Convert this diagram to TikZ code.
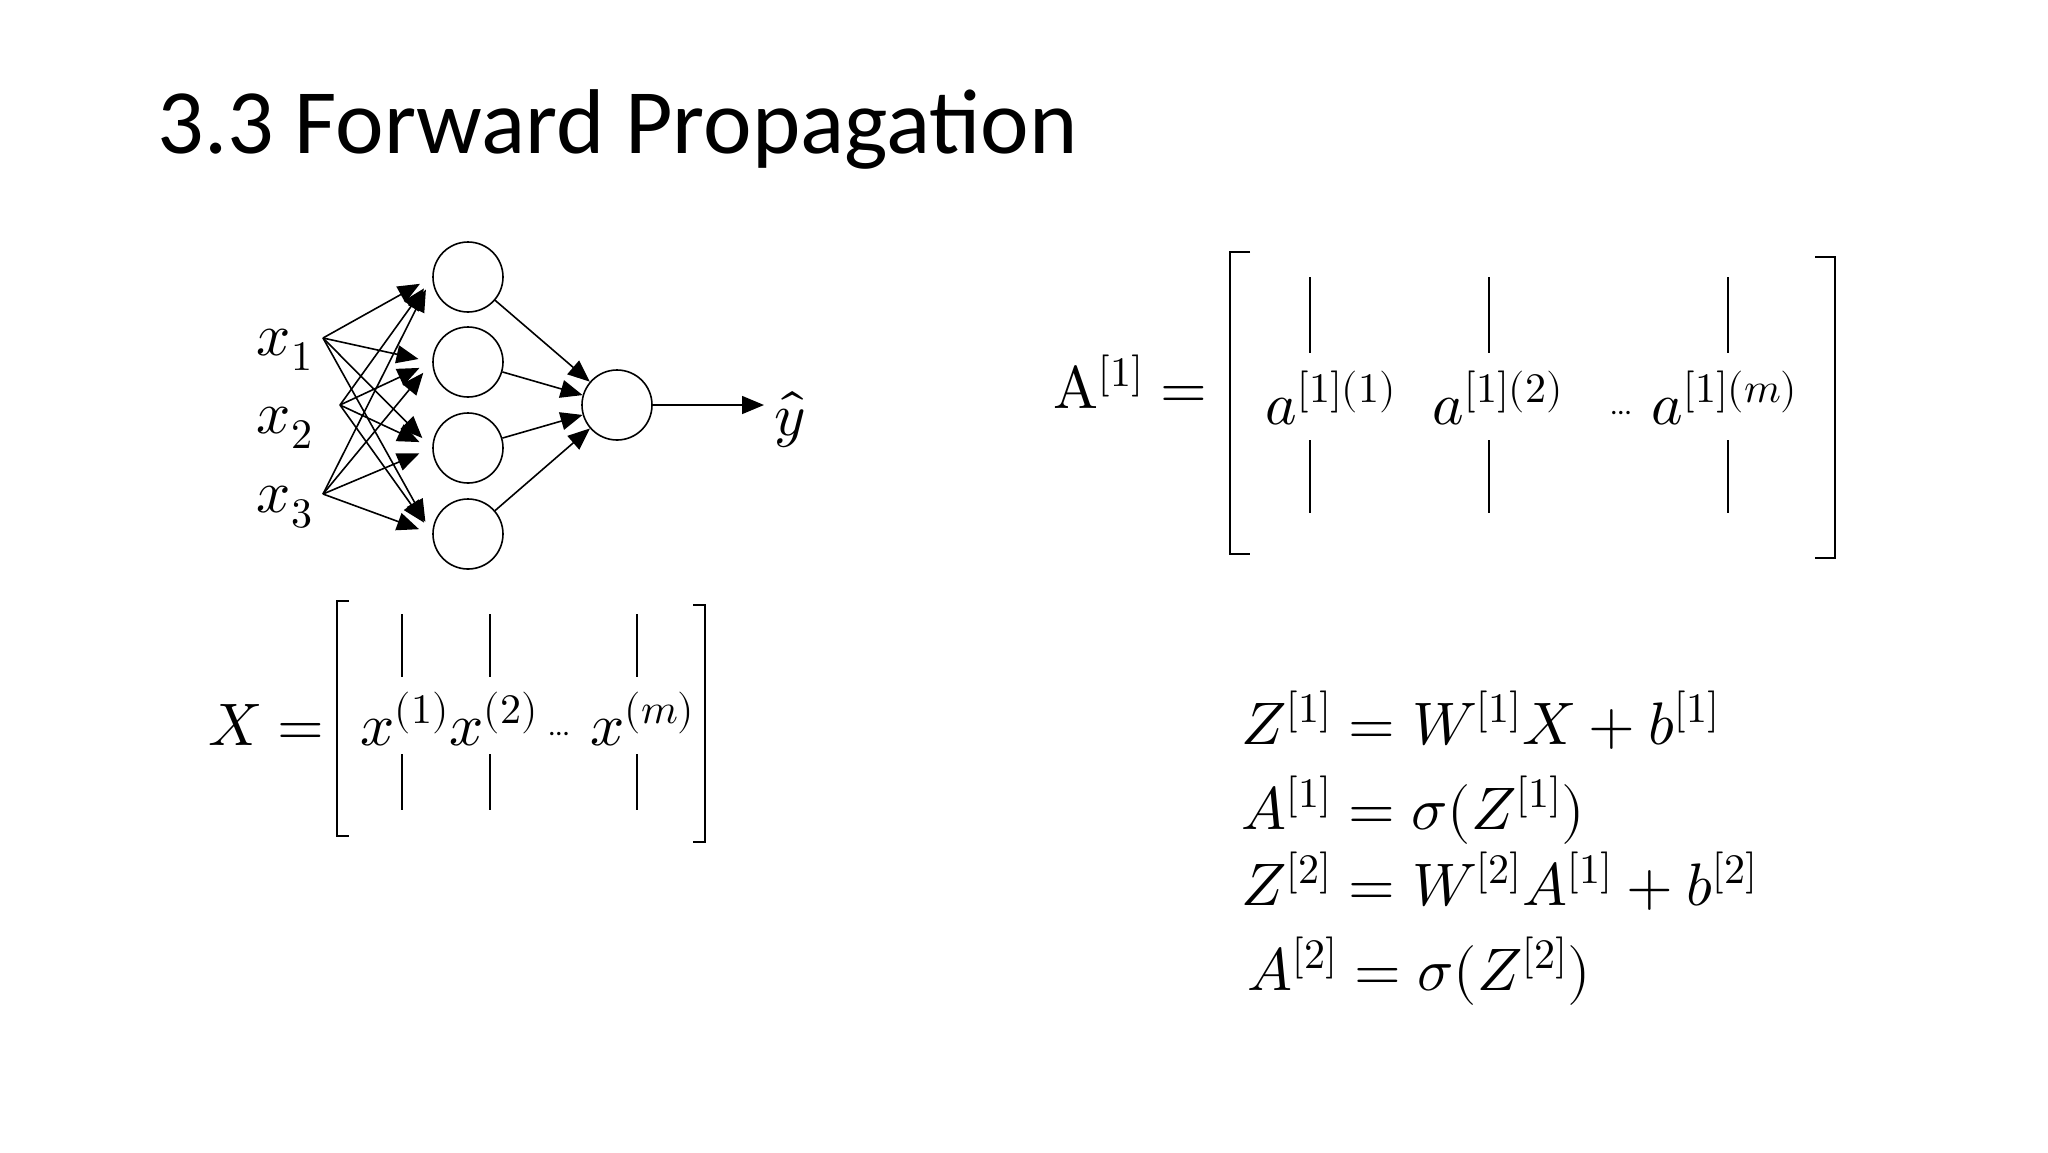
\documentclass[tikz,border=0pt]{standalone}
\usepackage{fontspec}
\setmainfont{Carlito}
\usepackage{unicode-math}
\setmathfont{Latin Modern Math}
\usetikzlibrary{arrows.meta}
\begin{document}
\begin{tikzpicture}[x=0.5pt,y=-0.5pt,
  neuron/.style={circle,draw,line width=0.8pt,minimum size=35pt,inner sep=0pt},
  conn/.style={line width=0.8pt,-{Triangle[length=11pt,width=9pt]}},
  eq/.style={anchor=base west,inner sep=0pt,font=\fontsize{30}{36}\selectfont},
  lbl/.style={inner sep=0pt,font=\fontsize{30}{36}\selectfont},
  brk/.style={line width=1.1pt},
  bar/.style={line width=0.8pt}]
\useasboundingbox[fill=white] (0,0) rectangle (2048,1152);
\node[anchor=base west,inner sep=0pt,font=\fontsize{46}{56}\selectfont] (title) at (157,153) {3.3 Forward Propagation};
% network
\foreach \i/\y in {1/277,2/362,3/448,4/534} \node[neuron] (h\i) at (468,\y) {};
\node[neuron] (o) at (617,405) {};
\node[lbl] (x1) at (285,350) {$x_1$};
\node[lbl] (x2) at (285,428) {$x_2$};
\node[lbl] (x3) at (285,507) {$x_3$};
\node[lbl] (yh) at (790,420) {$\hat{y}$};
\coordinate (s1) at (323,338);
\coordinate (s2) at (340,405);
\coordinate (s3) at (323,494);
\foreach \s in {s1,s2,s3}
  \foreach \i in {1,2,3,4}
    \draw[conn,shorten >=7pt] (\s) -- (h\i.west);
\foreach \i in {1,2,3,4} \draw[conn] (h\i) -- (o);
\coordinate (yend) at (764,405);
\draw[conn] (o.east) -- (yend);
% X matrix
\node[eq,anchor=base east] (Xeq) at (325,745) {$X=$};
\draw[brk] (349,601) -- (337,601) -- (337,836) -- (349,836);
\draw[brk] (693,605) -- (705,605) -- (705,842) -- (693,842);
\foreach \x in {402,490,637} {\draw[bar] (\x,614) -- (\x,677); \draw[bar] (\x,754) -- (\x,810);}
\node[eq] (xc1) at (360,745) {$x^{(1)}$};
\node[eq] (xc2) at (449,745) {$x^{(2)}$};
\node[eq,font=\fontsize{14}{16}\selectfont] (xd) at (548,735) {...};
\node[eq] (xc3) at (590,745) {$x^{(m)}$};
% A matrix
\node[eq] (Aeq) at (1053,408) {$\symup{A}^{[1]}=$};
\draw[brk] (1250,252) -- (1230,252) -- (1230,554) -- (1250,554);
\draw[brk] (1815,257) -- (1835,257) -- (1835,558) -- (1815,558);
\foreach \x in {1310,1489,1728} {\draw[bar] (\x,277) -- (\x,353); \draw[bar] (\x,440) -- (\x,513);}
\node[eq] (a1) at (1265,424) {$a^{[1](1)}$};
\node[eq] (a2) at (1432,424) {$a^{[1](2)}$};
\node[eq,font=\fontsize{14}{16}\selectfont] (ad) at (1610,414) {...};
\node[eq] (a3) at (1651,424) {$a^{[1](m)}$};
% equations
\node[eq] (e1) at (1241,744) {$Z^{[1]}=W^{[1]}X+b^{[1]}$};
\node[eq] (e2) at (1241,829) {$A^{[1]}=\sigma(Z^{[1]})$};
\node[eq] (e3) at (1241,905) {$Z^{[2]}=W^{[2]}A^{[1]}+b^{[2]}$};
\node[eq] (e4) at (1247,990) {$A^{[2]}=\sigma(Z^{[2]})$};
\end{tikzpicture}
\end{document}
